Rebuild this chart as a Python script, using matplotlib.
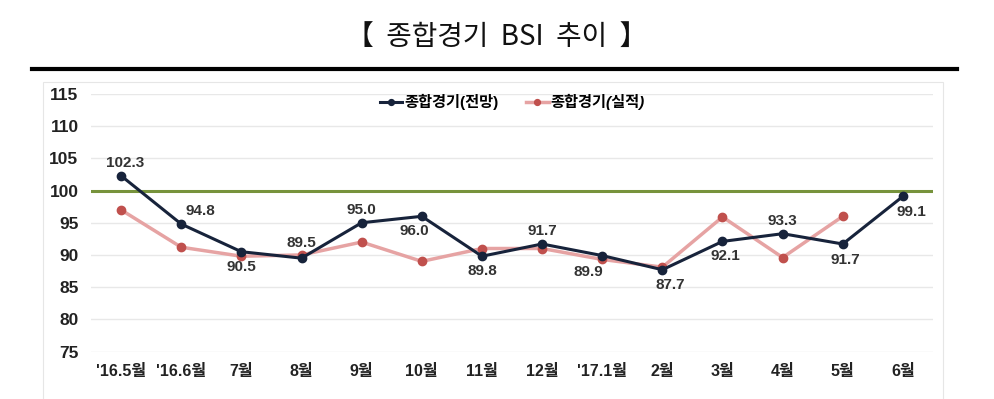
import matplotlib
matplotlib.use('Agg')
import matplotlib.pyplot as plt
import numpy as np

plt.rcParams['font.family'] = ['Liberation Sans', 'Noto Sans CJK KR', 'DejaVu Sans']

# 월별 라벨과 BSI 값
months = ["'16.5월", "'16.6월", '7월', '8월', '9월', '10월', '11월',
          '12월', "'17.1월", '2월', '3월', '4월', '5월', '6월']
forecast = [102.3, 94.8, 90.5, 89.5, 95.0, 96.0, 89.8, 91.7, 89.9, 87.7, 92.1, 93.3, 91.7, 99.1]
actual = [97.0, 91.2, 89.8, 90.0, 92.0, 89.0, 91.0, 91.0, 89.3, 88.1, 95.9, 89.6, 96.0]
yticks = [75, 80, 85, 90, 95, 100, 105, 110, 115]

# 라벨 위치 (픽셀 오프셋)
label_offsets = [(4, 13), (19, 13), (0, -15), (0, 15), (0, 13), (-7, -15), (0, -15),
                 (0, 13), (-14, -16), (8, -15), (3, -15), (0, 13), (3, -16), (8, -16)]

fig = plt.figure(figsize=(9.94, 3.99), dpi=100)

# 제목과 굵은 구분선
fig.text(0.5, 1 - 37 / 399, '【  종합경기  BSI  추이  】', ha='center', va='center', fontsize=20,
         family=['Noto Sans CJK KR', 'DejaVu Sans'], color='#111111')
fig.add_artist(plt.Line2D([32 / 994, 957 / 994], [1 - 69 / 399, 1 - 69 / 399],
                          color='black', lw=3))
# 차트 영역 테두리
fig.add_artist(plt.Rectangle((43 / 994, -0.01), (943 - 43) / 994, 1 - 82 / 399 + 0.01,
                             fill=False, edgecolor='#e6e6e6', lw=0.8))

ax = fig.add_axes([91 / 994, 1 - 351.5 / 399, (933 - 91) / 994, (351.5 - 94) / 399])
x = np.arange(len(months))

ax.axhline(100, color='#77933c', lw=2.2, zorder=2)
ax.plot(np.arange(len(actual)), actual, color='#e6a3a3', lw=2.5, marker='o', markersize=6,
        markerfacecolor='#c0504d', markeredgecolor='#c0504d', zorder=3, label='종합경기(실적)')
ax.plot(x, forecast, color='#17233b', lw=2.2, marker='o', markersize=6,
        markerfacecolor='#17233b', zorder=4, label='종합경기(전망)')

for i, v in enumerate(forecast):
    dx, dy = label_offsets[i]
    ax.annotate(f'{v:.1f}', (x[i], v), xytext=(dx, dy), textcoords='offset pixels',
                ha='center', va='center', fontsize=11, fontweight='bold', color='#333333')

ax.set_xlim(-0.5, len(months) - 0.5)
ax.set_ylim(75, 115)
ax.set_yticks(yticks)
ax.set_xticks(x)
ax.set_xticklabels(months)
ax.grid(axis='y', color='#e8e8e8', lw=1)
ax.set_axisbelow(True)
for s in ax.spines.values():
    s.set_visible(False)
ax.tick_params(length=0, colors='#222222')
ax.tick_params(axis='y', pad=9, labelsize=12.5)
ax.tick_params(axis='x', pad=9, labelsize=11.5)
for lbl in ax.get_xticklabels() + ax.get_yticklabels():
    lbl.set_fontweight('bold')

handles, labels = ax.get_legend_handles_labels()
leg = ax.legend(handles[::-1], labels[::-1], loc='center', bbox_to_anchor=(0.5, 1 - (102 - 94) / 257.5),
                ncol=2, frameon=False, fontsize=11, handlelength=1.5, columnspacing=1.8,
                handletextpad=0.1, borderaxespad=0, markerscale=0.7)
for t in leg.get_texts():
    t.set_fontweight('bold')
leg.get_texts()[1].set_fontstyle('italic')

fig.savefig('out.png', dpi=100)
